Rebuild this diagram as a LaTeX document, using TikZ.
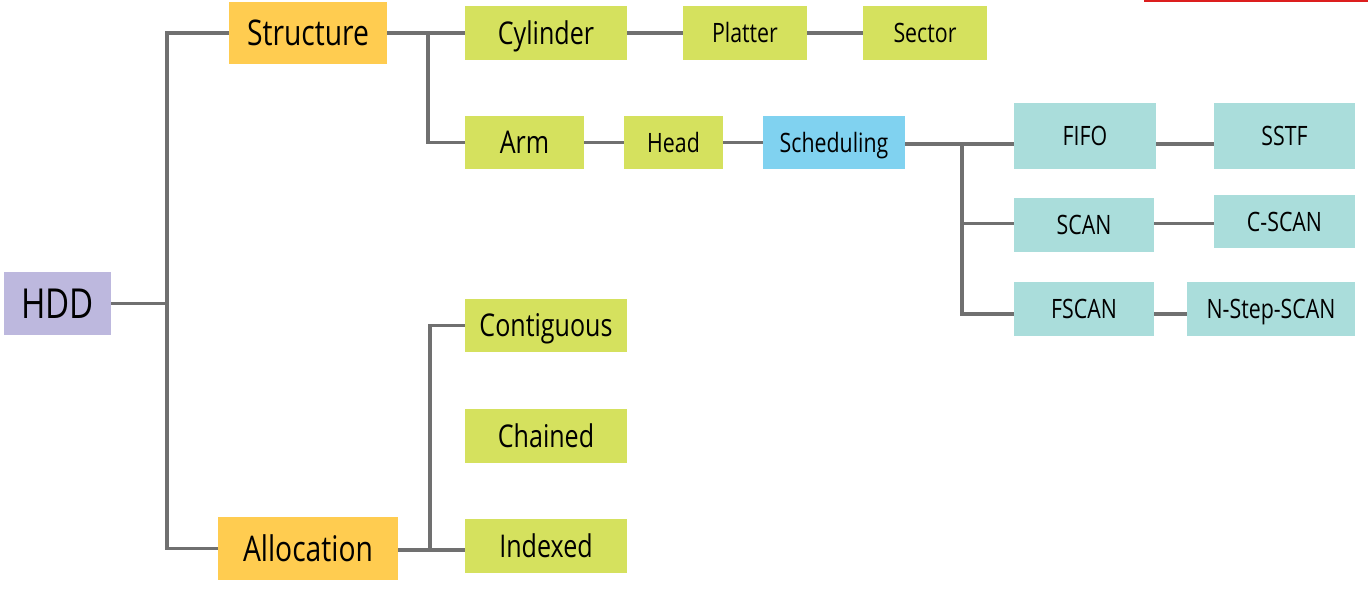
\documentclass[tikz,border=0pt]{standalone}
\usepackage{fontspec}
\setmainfont{Open Sans}[FakeStretch=0.8]
\definecolor{cPurple}{RGB}{189,184,222}
\definecolor{cOrange}{RGB}{255,204,80}
\definecolor{cGreen}{RGB}{213,225,94}
\definecolor{cBlue}{RGB}{128,210,240}
\definecolor{cTeal}{RGB}{170,221,219}
\definecolor{cLine}{RGB}{112,112,112}
\definecolor{cRed}{RGB}{220,30,30}
\tikzset{
  bx/.style 2 args={draw=none, inner sep=0pt, minimum width=#1*0.75pt, minimum height=#2*0.75pt, text=black, text depth=0pt},
  huge/.style={font=\fontsize{31}{34}\selectfont, text height=22.1pt},
  big/.style={font=\fontsize{26.5}{29}\selectfont, text height=18.9pt},
  mid/.style={font=\fontsize{23.5}{26}\selectfont, text height=16.8pt},
  small/.style={font=\fontsize{20}{23}\selectfont, text height=14.3pt},
  conn/.style={draw=cLine, line width=2.3pt},
}
\begin{document}
\begin{tikzpicture}[x=0.75pt,y=-0.75pt]
\useasboundingbox (0,0) rectangle (1368,591);
% nodes
\node[bx={107}{63}, fill=cPurple, huge] (HDD) at (57.5,303.5) {HDD};
\node[bx={158}{62}, fill=cOrange, big] (Structure) at (308,33) {Structure};
\node[bx={180}{63}, fill=cOrange, big] (Allocation) at (308,548.5) {Allocation};
\node[bx={162}{54}, fill=cGreen, mid] (Cylinder) at (546,33) {Cylinder};
\node[bx={124}{54}, fill=cGreen, small] (Platter) at (745,33) {Platter};
\node[bx={124}{54}, fill=cGreen, small] (Sector) at (925,33) {Sector};
\node[bx={119}{53}, fill=cGreen, mid] (Arm) at (524.5,142.5) {Arm};
\node[bx={99}{53}, fill=cGreen, small] (Head) at (673.5,142.5) {Head};
\node[bx={142}{53}, fill=cBlue, small] (Scheduling) at (834,142.5) {Scheduling};
\node[bx={142}{66}, fill=cTeal, small] (FIFO) at (1085,136) {FIFO};
\node[bx={141}{66}, fill=cTeal, small] (SSTF) at (1284.5,136) {SSTF};
\node[bx={140}{54}, fill=cTeal, small] (SCAN) at (1084,225) {SCAN};
\node[bx={141}{53}, fill=cTeal, small] (CSCAN) at (1284.5,221.5) {C-SCAN};
\node[bx={140}{54}, fill=cTeal, small] (FSCAN) at (1084,309) {FSCAN};
\node[bx={168}{54}, fill=cTeal, small] (NSTEP) at (1271,309) {N-Step-SCAN};
\node[bx={162}{53}, fill=cGreen, mid] (Contiguous) at (546,325.5) {Contiguous};
\node[bx={162}{54}, fill=cGreen, mid] (Chained) at (546,436) {Chained};
\node[bx={162}{54}, fill=cGreen, mid] (Indexed) at (546,546) {Indexed};
% junction coordinates
\coordinate (j0) at (167,303.5);
\coordinate (j1) at (428,90);
\coordinate (j2) at (962,200);
\coordinate (j3) at (430,450);
\coordinate (ySched) at (0,144);
\coordinate (yScan) at (0,223.5);
\coordinate (yFscan) at (0,314);
\coordinate (yAlloc) at (0,550);
% connectors
\draw[conn] (HDD.east) -- (HDD.east -| j0);
\draw[conn] (Structure.west) -| (j0) |- (Allocation.west);
\draw[conn] (Structure.east) -- (Cylinder.west);
\draw[conn] (Structure.east -| j1) |- (Arm.west);
\draw[conn] (Cylinder.east) -- (Platter.west);
\draw[conn] (Platter.east) -- (Sector.west);
\draw[conn] (Arm.east) -- (Head.west);
\draw[conn] (Head.east) -- (Scheduling.west);
\draw[conn] (Scheduling.east |- ySched) -- (FIFO.west |- ySched);
\draw[conn] (j2 |- ySched) |- (SCAN.west |- yScan);
\draw[conn] (j2 |- ySched) |- (FSCAN.west |- yFscan);
\draw[conn] (FIFO.east |- ySched) -- (SSTF.west |- ySched);
\draw[conn] (SCAN.east |- yScan) -- (CSCAN.west |- yScan);
\draw[conn] (FSCAN.east |- yFscan) -- (NSTEP.west |- yFscan);
\draw[conn] (Allocation.east |- yAlloc) -- (Indexed.west |- yAlloc);
\draw[conn] (j3 |- yAlloc) |- (Contiguous.west);
% stray red rule at top right
\coordinate (r0) at (1144,0.8);
\coordinate (r1) at (1368,0.8);
\draw[cRed, line width=1.2pt] (r0) -- (r1);
\end{tikzpicture}
\end{document}
